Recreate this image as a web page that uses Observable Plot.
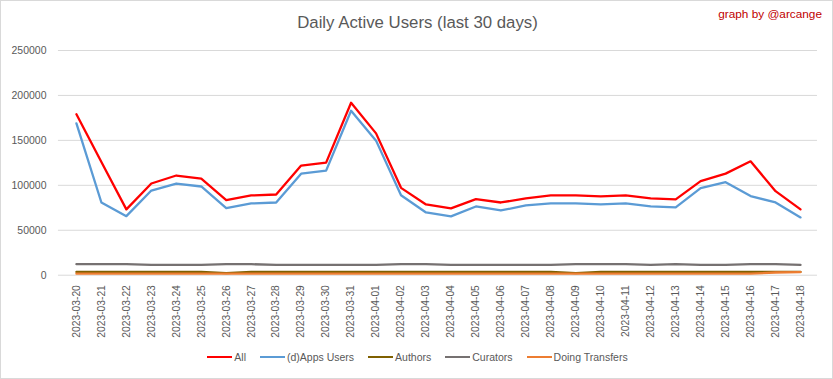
<!DOCTYPE html>
<html>
<head>
<meta charset="utf-8">
<script src="https://cdn.jsdelivr.net/npm/d3@7"></script>
<script src="https://cdn.jsdelivr.net/npm/@observablehq/plot@0.6"></script>
<style>
  html, body { margin: 0; padding: 0; background: #fff; }
  #wrap { position: relative; width: 833px; height: 379px; box-sizing: border-box; border: 1px solid #d9d9d9; background: #fff; font-family: "Liberation Sans", Arial, sans-serif; overflow: hidden; }
  #title { position: absolute; left: 0; width: 833px; top: 12px; text-align: center; font-size: 16.8px; color: #595959; }
  #credit { position: absolute; right: 10px; top: 6px; font-size: 11.8px; color: #c00000; }
  #chart { position: absolute; left: -1px; top: 39px; }
  #legend { position: absolute; left: 0; width: 833px; top: 350px; display: flex; justify-content: center; gap: 14px; font-size: 10.5px; color: #595959; }
  .item { display: flex; align-items: center; gap: 2px; }
  .sw { width: 25px; height: 2.5px; }
</style>
</head>
<body>
<div id="wrap">
  <div id="title">Daily Active Users (last 30 days)</div>
  <div id="credit">graph by @arcange</div>
  <div id="chart"></div>
  <div id="legend"></div>
</div>
<script>
const dates = ["2023-03-20","2023-03-21","2023-03-22","2023-03-23","2023-03-24","2023-03-25","2023-03-26","2023-03-27","2023-03-28","2023-03-29","2023-03-30","2023-03-31","2023-04-01","2023-04-02","2023-04-03","2023-04-04","2023-04-05","2023-04-06","2023-04-07","2023-04-08","2023-04-09","2023-04-10","2023-04-11","2023-04-12","2023-04-13","2023-04-14","2023-04-15","2023-04-16","2023-04-17","2023-04-18"];
const allUsers   = [179000,126000,73200,102000,110900,107500,83500,88700,89800,122000,125300,191800,157800,97200,78700,74300,84600,80900,85400,88700,88700,87600,88700,85400,84300,104600,113000,126700,93500,73200];
const appsUsers  = [168900,80900,65700,94200,102000,98700,74600,79800,80900,113000,116400,182900,149700,89000,69800,65400,76500,72000,77600,79800,79800,78700,79800,76500,75400,96800,103500,88000,80900,64300];
const authors    = [3700,3700,3700,3700,3700,3700,2300,3700,3700,3700,3700,3700,3700,3700,3700,3700,3700,3700,3700,3700,2300,3700,3700,3700,3700,3700,3700,3700,3700,3700];
const curators   = [12300,12300,12300,11400,11400,11400,12300,12300,11400,11400,11400,11400,11400,12300,12300,11400,11400,11400,11400,11400,12300,12300,12300,11400,12300,11400,11400,12300,12300,11400];
const transfers  = [1700,1700,1700,1700,1700,1700,1700,1700,1700,1700,1700,1700,1700,1700,1700,1700,1700,1700,1700,1700,1700,1700,1700,1700,1700,1700,1700,1700,3000,3500];
const seriesNames = ["All","(d)Apps Users","Authors","Curators","Doing Transfers"];
const seriesColors = ["#ff0000","#5b9bd5","#7f6000","#767171","#ed7d31"];
const yTicks = [0,50000,100000,150000,200000,250000];

const seriesValues = [allUsers, appsUsers, authors, curators, transfers];
const rows = [];
seriesNames.forEach((name, s) => {
  dates.forEach((d, i) => rows.push({series: name, date: d, value: seriesValues[s][i]}));
});

const chart = Plot.plot({
  width: 833,
  height: 300,
  marginLeft: 58,
  marginRight: 15,
  marginTop: 10,
  marginBottom: 65,
  style: { fontFamily: "Liberation Sans, Arial, sans-serif", fontSize: "10px", color: "#595959", background: "transparent" },
  x: { type: "point", domain: dates, padding: 0.5, label: null },
  y: { domain: [0, 250000], label: null },
  color: { domain: seriesNames, range: seriesColors },
  marks: [
    Plot.gridY(yTicks, { stroke: "#d9d9d9", strokeOpacity: 1, strokeWidth: 1 }),
    Plot.axisY(yTicks, { tickSize: 0, tickPadding: 12, tickFormat: d3.format("d"), fontSize: 10.5, label: null }),
    Plot.axisX({ tickSize: 0, tickPadding: 10, tickRotate: -90, fontSize: 10.3, label: null }),
    Plot.line(rows, { x: "date", y: "value", z: "series", stroke: "series", strokeWidth: 2.3, strokeLinejoin: "round", strokeLinecap: "round" })
  ]
});
document.getElementById("chart").appendChild(chart);

const legend = document.getElementById("legend");
seriesNames.forEach((name, i) => {
  const it = document.createElement("div");
  it.className = "item";
  const sw = document.createElement("div");
  sw.className = "sw";
  sw.style.background = seriesColors[i];
  const tx = document.createElement("span");
  tx.textContent = name;
  it.appendChild(sw); it.appendChild(tx);
  legend.appendChild(it);
});
</script>
</body>
</html>
